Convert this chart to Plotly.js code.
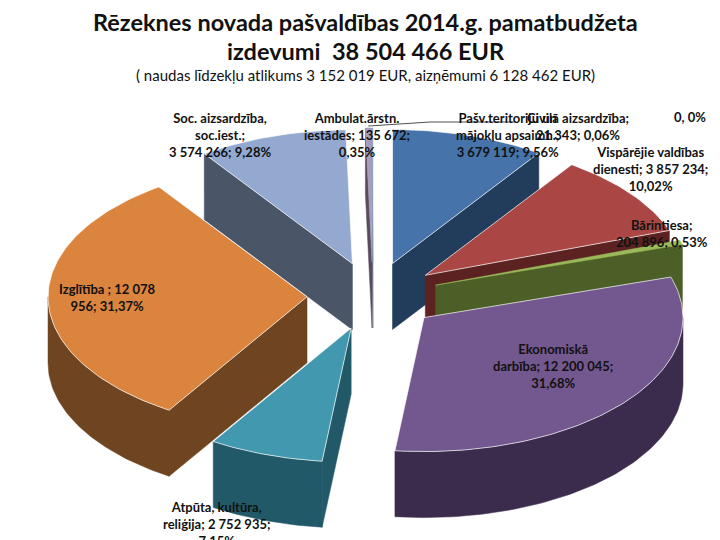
<!DOCTYPE html>
<html><head><meta charset="utf-8">
<script src="https://cdn.plot.ly/plotly-3.0.0.min.js"></script>
<style>html,body{margin:0;padding:0;background:#fff;overflow:hidden}#c{width:720px;height:540px}</style>
</head><body><div id="c"></div>
<script>
const categories=["Pašv.teritoriju un mājokļu apsaimn.","Vispārējie valdības dienesti","Bārintiesa","Ekonomiskā darbība","Atpūta, kultūra, reliģija","Izglītība","Soc. aizsardzība, soc.iest.","Ambulat.ārstn. iestādes","Civilā aizsardzība"];
const values=[3679119,3857234,204896,12200045,2752935,12078956,3574266,135672,21343];
const topColors=["#4674AA","#AA4744","#9ABA59","#73578F","#4198AF","#DB843D","#93A9CF","#A99BBD","#8FA9C8"];
const wallColors=["#223D5C","#5C2221","#4C5F26","#3B2C4D","#215968","#6E4520","#4A5568","#5A4B5C","#4A5568"];
const drawOrder=[0,6,7,8,1,2,4,5,3];
const labelLines=[
 ["Pašv.teritoriju un","mājokļu apsaimn.;","3 679 119; 9,56%"],
 ["Vispārējie valdības","dienesti; 3 857 234;","10,02%"],
 ["Bārintiesa;","204 896; 0,53%"],
 ["Ekonomiskā","darbība; 12 200 045;","31,68%"],
 ["Atpūta, kultūra,","reliģija; 2 752 935;","7,15%"],
 ["Izglītība ; 12 078","956; 31,37%"],
 ["Soc. aizsardzība,","soc.iest.;","3 574 266; 9,28%"],
 ["Ambulat.ārstn.","iestādes; 135 672;","0,35%"],
 ["Civilā aizsardzība;","21 343; 0,06%"]
];
const labelPos=[[507,135],[650,169],[662,233],[553,366],[217,524],[107,297],[220,135],[357,135],[578,126]];
const cx=373,cy=296,rx=259,ry=134,depth=66,ex=66,ey=34;
const total=values.reduce((a,b)=>a+b,0);
const PI=Math.PI;
const traces=[];
function poly(xs,ys,fill,lineColor,lw){traces.push({type:'scatter',mode:'lines',x:xs,y:ys,fill:'toself',fillcolor:fill,line:{color:lineColor||fill,width:lw||0.5},hoverinfo:'skip',showlegend:false});}
let acc=0;const slices=values.map((v,i)=>{const a0=acc/total*2*PI;acc+=v;const a1=acc/total*2*PI;const m=(a0+a1)/2;return{a0,a1,ax:cx+ex*Math.sin(m),ay:cy-ey*Math.cos(m)};});
function pt(s,a){return[s.ax+rx*Math.sin(a),s.ay-ry*Math.cos(a)];}
drawOrder.forEach(i=>{
 const s=slices[i];const n=Math.max(2,Math.ceil((s.a1-s.a0)/0.02));
 const arcA=[];for(let k=0;k<=n;k++)arcA.push(s.a0+(s.a1-s.a0)*k/n);
 const w=wallColors[i];
 const e0=pt(s,s.a0),e1=pt(s,s.a1);
 if(s.a0>PI) poly([s.ax,e0[0],e0[0],s.ax,s.ax],[s.ay,e0[1],e0[1]+depth,s.ay+depth,s.ay],w);
 if(s.a1<PI) poly([s.ax,e1[0],e1[0],s.ax,s.ax],[s.ay,e1[1],e1[1]+depth,s.ay+depth,s.ay],w);
 const lo=Math.max(s.a0,PI/2),hi=Math.min(s.a1,1.5*PI);
 if(hi>lo){const xs=[],ys=[],xb=[],yb=[];const m=Math.ceil((hi-lo)/0.02);
  for(let k=0;k<=m;k++){const p=pt(s,lo+(hi-lo)*k/m);xs.push(p[0]);ys.push(p[1]);xb.unshift(p[0]);yb.unshift(p[1]+depth);}
  poly(xs.concat(xb,[xs[0]]),ys.concat(yb,[ys[0]]),w);}
 const xs=[s.ax],ys=[s.ay];arcA.forEach(a=>{const p=pt(s,a);xs.push(p[0]);ys.push(p[1]);});xs.push(s.ax);ys.push(s.ay);
 const small=values[i]/total<0.01;
 poly(xs,ys,topColors[i],small?topColors[i]:'#ffffff',small?0.5:0.7);
});
const s8=pt(slices[7],(slices[7].a0+slices[7].a1)/2);
traces.push({type:'scatter',mode:'lines',x:[s8[0],430,458,516],y:[s8[1]-2,122,122,122],line:{color:'#222',width:0.8},hoverinfo:'skip',showlegend:false});
const fam='Lato,"Noto Sans",sans-serif';
const font={family:fam,size:13,color:'#111',weight:700};
const annotations=labelLines.map((l,i)=>({xref:'x',yref:'y',x:labelPos[i][0],y:labelPos[i][1],text:l.join('<br>'),showarrow:false,font:font,align:'center',xanchor:'center',yanchor:'middle',borderpad:0}));
annotations.push({xref:'x',yref:'y',x:690,y:117,text:'0, 0%',showarrow:false,font:font,xanchor:'center',yanchor:'middle'});
const txt=(t,y,size,weight)=>({xref:'x',yref:'y',x:365.5,y:y,text:t,showarrow:false,font:{family:fam,size:size,color:'#111',weight:weight},xanchor:'center',yanchor:'middle'});
annotations.push(txt('Rēzeknes novada pašvaldības 2014.g. pamatbudžeta',22,23.5,700),txt('izdevumi  38 504 466 EUR',51,23.5,700),txt('( naudas līdzekļu atlikums 3 152 019 EUR, aizņēmumi 6 128 462 EUR)',75,15,400));
Plotly.newPlot('c',traces,{width:720,height:540,margin:{l:0,r:0,t:0,b:0},paper_bgcolor:'#fff',plot_bgcolor:'#fff',showlegend:false,
 xaxis:{range:[0,720],visible:false,fixedrange:true},yaxis:{range:[540,0],visible:false,fixedrange:true},annotations:annotations},{displayModeBar:false,staticPlot:true});
</script></body></html>
